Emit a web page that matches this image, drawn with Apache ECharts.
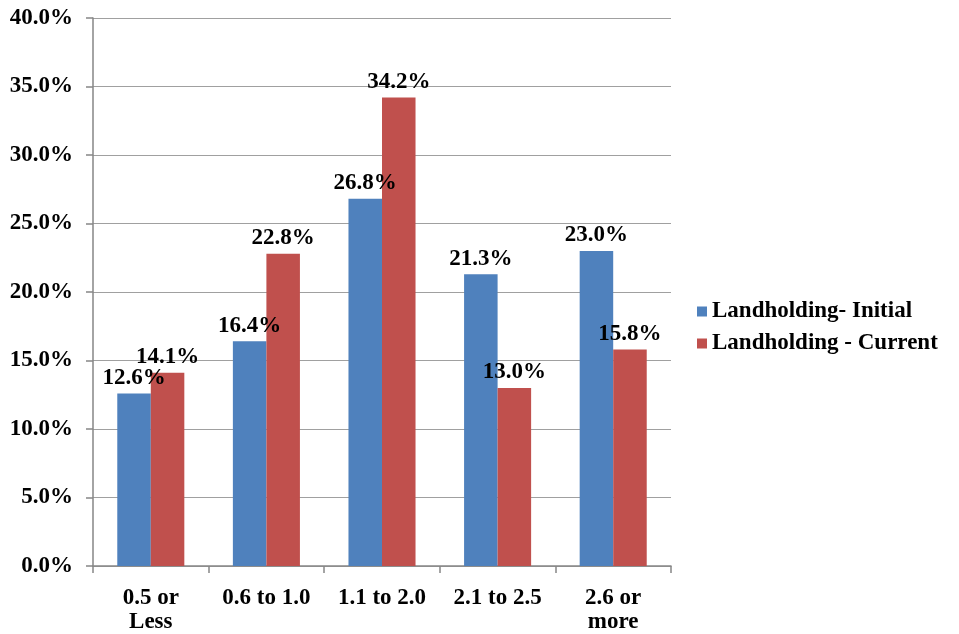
<!DOCTYPE html>
<html>
<head>
<meta charset="utf-8">
<script src="https://cdn.jsdelivr.net/npm/echarts@6/dist/echarts.min.js"></script>
<style>
  html, body { margin: 0; padding: 0; background: #fff; }
  #chart { width: 959px; height: 634px; }
</style>
</head>
<body>
<div id="chart"></div>
<script>
// Landholding size classes (acres)
const categories = ['0.5 or\nLess', '0.6 to 1.0', '1.1 to 2.0', '2.1 to 2.5', '2.6 or\nmore'];
// Share of households in each class, percent
const initialShare = [12.6, 16.4, 26.8, 21.3, 23.0];
const currentShare = [14.1, 22.8, 34.2, 13.0, 15.8];
const yTicks = { min: 0, max: 40, interval: 5 };

const FONT = '"Liberation Serif", "Times New Roman", serif';
const pct = v => Number(v).toFixed(1) + '%';

const chart = echarts.init(document.getElementById('chart'), null, { renderer: 'canvas' });

const labelStyle = {
  show: true,
  position: 'top',
  distance: 4,
  fontFamily: FONT,
  fontWeight: 'bold',
  fontSize: 23,
  color: '#000',
  formatter: p => pct(p.value)
};

chart.setOption({
  animation: false,
  backgroundColor: '#fff',
  grid: { left: 93, right: 288, top: 18, bottom: 66, containLabel: false },
  legend: {
    orient: 'vertical',
    left: 692,
    top: 295,
    itemWidth: 10,
    itemHeight: 10,
    itemGap: 9,
    icon: 'rect',
    textStyle: { fontFamily: FONT, fontWeight: 'bold', fontSize: 23, color: '#000' },
    data: ['Landholding- Initial', 'Landholding - Current']
  },
  xAxis: {
    type: 'category',
    data: categories,
    axisLine: { lineStyle: { color: '#868686', width: 1.5 } },
    axisTick: { show: true, length: 7, alignWithLabel: false, lineStyle: { color: '#868686', width: 1.5 } },
    axisLabel: {
      margin: 20,
      interval: 0,
      fontFamily: FONT,
      fontWeight: 'bold',
      fontSize: 23,
      lineHeight: 24,
      color: '#000'
    }
  },
  yAxis: {
    type: 'value',
    min: yTicks.min,
    max: yTicks.max,
    interval: yTicks.interval,
    axisLine: { show: true, lineStyle: { color: '#868686', width: 1.5 } },
    axisTick: { show: true, length: 7, lineStyle: { color: '#868686', width: 1.5 } },
    splitLine: { show: true, lineStyle: { color: '#a0a0a0', width: 1.2 } },
    axisLabel: {
      margin: 20,
      fontFamily: FONT,
      fontWeight: 'bold',
      fontSize: 23,
      color: '#000',
      formatter: v => pct(v)
    }
  },
  series: [
    {
      name: 'Landholding- Initial',
      type: 'bar',
      data: initialShare,
      barGap: '0%',
      barCategoryGap: '42%',
      itemStyle: { color: '#4F81BD' },
      label: labelStyle
    },
    {
      name: 'Landholding - Current',
      type: 'bar',
      data: currentShare,
      itemStyle: { color: '#C0504D' },
      label: labelStyle
    }
  ]
});
</script>
</body>
</html>
